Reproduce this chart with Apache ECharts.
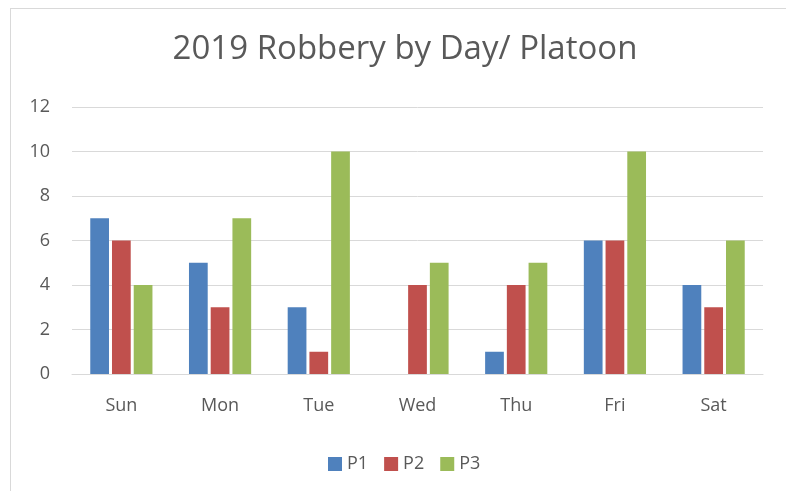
<!DOCTYPE html>
<html>
<head>
<meta charset="utf-8">
<script src="https://cdn.jsdelivr.net/npm/echarts@6/dist/echarts.min.js"></script>
<style>
  html, body { margin: 0; padding: 0; background: #fff; }
  #frame { position: absolute; left: 10px; top: 8px; width: 800px; height: 500px; border: 1px solid #d9d9d9; box-sizing: border-box; }
  #chart { position: absolute; left: 0; top: 0; width: 786px; height: 491px; }
</style>
</head>
<body>
<div id="frame"></div>
<div id="chart"></div>
<script>
// days on the x axis
const days = ["Sun", "Mon", "Tue", "Wed", "Thu", "Fri", "Sat"];
// robberies per platoon
const p1 = [7, 5, 3, 0, 1, 6, 4];
const p2 = [6, 3, 1, 4, 4, 6, 3];
const p3 = [4, 7, 10, 5, 5, 10, 6];

const chart = echarts.init(document.querySelector("#chart"));
const font = "'Open Sans', 'Liberation Sans', sans-serif";

chart.setOption({
  animation: false,
  color: ["#4F81BD", "#C0504D", "#9BBB59"],
  title: {
    text: "2019 Robbery by Day/ Platoon",
    left: 400,
    textAlign: "center",
    top: 28,
    textStyle: { fontFamily: font, fontSize: 33, fontWeight: "normal", color: "#595959" }
  },
  legend: {
    top: 450,
    left: 323,
    itemWidth: 14,
    itemHeight: 14,
    itemGap: 16,
    icon: "rect",
    textStyle: { fontFamily: font, fontSize: 18, color: "#595959" },
    data: ["P1", "P2", "P3"]
  },
  grid: { left: 72, right: 23, top: 107, bottom: 117, containLabel: false },
  xAxis: {
    type: "category",
    data: days,
    axisLine: { lineStyle: { color: "#d9d9d9", width: 1 } },
    axisTick: { show: false },
    axisLabel: { fontFamily: font, fontSize: 18, color: "#595959", margin: 23 }
  },
  yAxis: {
    type: "value",
    min: 0,
    max: 12,
    interval: 2,
    axisLine: { show: false },
    axisTick: { show: false },
    splitLine: { lineStyle: { color: "#d9d9d9", width: 1 } },
    axisLabel: { fontFamily: font, fontSize: 18, color: "#595959", margin: 22 }
  },
  series: [
    { name: "P1", type: "bar", data: p1, barGap: "16%", barCategoryGap: "37%" },
    { name: "P2", type: "bar", data: p2, barGap: "16%", barCategoryGap: "37%" },
    { name: "P3", type: "bar", data: p3, barGap: "16%", barCategoryGap: "37%" }
  ]
});
</script>
</body>
</html>
